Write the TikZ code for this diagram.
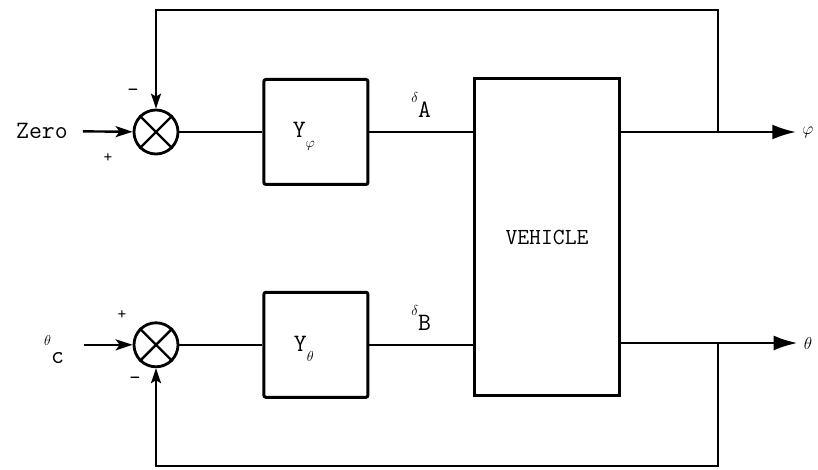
\documentclass[tikz,border=0pt]{standalone}
\usepackage{fontspec}
\usetikzlibrary{arrows.meta, positioning, calc}

\begin{document}
\begin{tikzpicture}[
    x=1pt, y=-1pt,
    font=\ttfamily\fontsize{25}{28}\selectfont,
    block/.style={rectangle, draw=black, line width=3pt, minimum width=104pt, minimum height=105pt, rounded corners=2pt, inner sep=0pt},
    plant/.style={rectangle, draw=black, line width=3pt, minimum width=145pt, minimum height=317pt, inner sep=0pt, font=\ttfamily\fontsize{23}{26}\selectfont},
    summer/.style={circle, draw=black, line width=2.8pt, minimum size=44pt, inner sep=0pt},
    sign/.style={font=\ttfamily\fontsize{17}{17}\selectfont, inner sep=0pt},
    minus/.style={font=\ttfamily\fontsize{22}{22}\selectfont, inner sep=0pt},
    sig/.style={line width=2pt},
    inarrow/.style={-{Stealth[length=17pt, width=11pt, inset=4pt]}, line width=2.4pt},
    fbarrow/.style={-{Stealth[length=15pt, width=10pt, inset=3pt]}, line width=2pt},
    outarrow/.style={-{Latex[length=24pt, width=15pt]}, line width=2.8pt},
]

% Bounding box
\useasboundingbox (0,0) rectangle (818,470);

% Summing junctions and gains
\node[summer] (sumA) at (156,132) {};
\node[summer, below=166pt of sumA] (sumB) {};
\node[block, right=83pt of sumA, label={[xshift=-12pt, yshift=-4pt]center:Y\raisebox{-10pt}{\fontsize{15}{15}\selectfont$\varphi$}}] (Yphi) {};
\node[block, right=83pt of sumB, label={[xshift=-12pt, yshift=-4pt]center:Y\raisebox{-10pt}{\fontsize{15}{15}\selectfont$\theta$}}] (Ytheta) {};
\node[plant] (veh) at (547,237) {VEHICLE};

% Crosses in the summers
\foreach \s in {sumA, sumB} {
    \draw[line width=2.4pt] (\s.north east) -- (\s.south west);
    \draw[line width=2.4pt] (\s.north west) -- (\s.south east);
}

% Inputs and outputs
\node[inner sep=2pt] (zero) at (42,131) {Zero};
\node[anchor=base west, inner sep=2pt] (thc) at (42,345) {{\fontsize{14}{14}\selectfont$\theta$}\raisebox{-18pt}{c}};
\node[inner sep=1pt, font=\fontsize{18}{18}\selectfont] (phi) at (808,132) {$\varphi$};
\node[inner sep=1pt, font=\fontsize{18}{18}\selectfont] (theta) at (808,343) {$\theta$};

% Signs
\node[sign] (plusA) at ($(sumA)+(-48,26)$) {+};
\node[minus] (minusA) at ($(sumA)+(-23,-39)$) {-};
\node[sign] (plusB) at ($(sumB)+(-34,-30)$) {+};
\node[minus] (minusB) at ($(sumB)+(-21,36)$) {-};

% Forward path
\draw[inarrow, shorten <=13pt] (zero) -- (sumA);
\draw[inarrow, shorten <=18pt] (thc.east |- sumB) -- (sumB);
\draw[sig] (sumA) -- (Yphi);
\draw[sig] (sumB) -- (Ytheta);
\draw[sig] (Yphi) -- node[above=13pt, inner sep=0pt] {\raisebox{15pt}{\fontsize{15}{15}\selectfont$\delta$}A} (veh.west |- Yphi);
\draw[sig] (Ytheta) -- node[above=13pt, inner sep=0pt] {\raisebox{15pt}{\fontsize{15}{15}\selectfont$\delta$}B} (veh.west |- Ytheta);
\draw[outarrow, shorten >=5pt] (veh.east |- phi) -- (phi);
\draw[outarrow, shorten >=5pt] (veh.east |- theta) -- (theta);

% Feedback loops
\coordinate (tapA) at (718,132);
\coordinate (topA) at (718,10);
\coordinate (tapB) at (718,343);
\coordinate (botB) at (718,466);
\draw[fbarrow] (tapA) -- (topA) -| (sumA.north);
\draw[fbarrow] (tapB) -- (botB) -| (sumB.south);

\end{tikzpicture}
\end{document}
